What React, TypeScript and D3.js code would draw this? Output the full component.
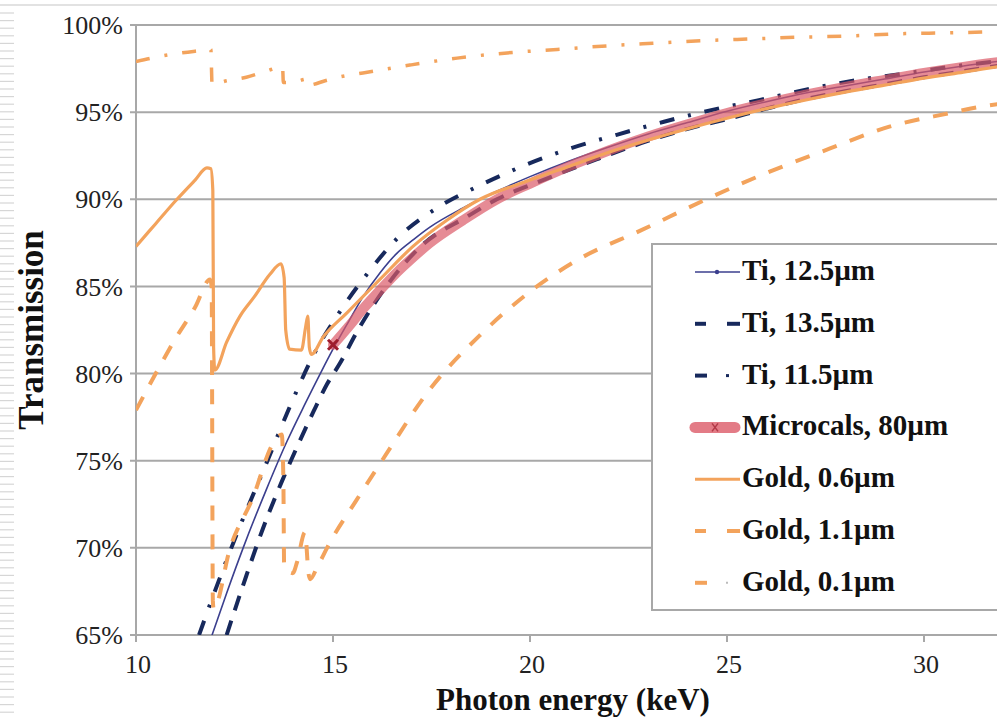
import React from 'react'
import * as d3 from 'd3'

// photon energy (keV), transmission (fraction)
const xTicks = [10, 15, 20, 25, 30]
const yTicks = [0.65, 0.7, 0.75, 0.8, 0.85, 0.9, 0.95, 1.0]

const ti125 = [[11.9,0.648],[12.3,0.674],[12.72,0.70],[13.3,0.733],[13.83,0.761],[14.3,0.783],[14.7,0.801],[15,0.814],[15.4,0.83],[15.76,0.844],[16.2,0.858],[16.62,0.869],[17.05,0.877],[17.46,0.884],[18.3,0.895],[19.1,0.904],[20,0.913],[21,0.922],[22,0.930],[23,0.9375],[24,0.944],[25,0.9505],[26,0.956],[27,0.961],[28,0.965],[29,0.969],[30,0.973],[31,0.9765],[32,0.9795]]
const ti135 = [[12.3,0.650],[12.8,0.684],[13.22,0.711],[13.7,0.738],[14.09,0.758],[14.5,0.778],[14.85,0.794],[15.18,0.806],[15.61,0.824],[16.45,0.853],[17.28,0.874],[18.4,0.890],[19.16,0.900],[20.33,0.911],[21.7,0.923],[23.2,0.935],[24.1,0.941],[25,0.946],[26,0.952],[27,0.9575],[28,0.962],[29,0.966],[30,0.970],[31,0.9735],[32,0.977]]
const ti115 = [[11.6,0.650],[12.0,0.675],[12.56,0.708],[13.3,0.748],[13.98,0.785],[14.49,0.810],[15.13,0.834],[15.86,0.857],[16.65,0.878],[17.64,0.895],[18.73,0.908],[19.92,0.920],[21,0.929],[22.2,0.937],[23.4,0.9445],[24.57,0.951],[25.84,0.957],[27.03,0.963],[28.2,0.968],[29.47,0.972],[30.66,0.976],[32,0.9795]]
const microcals = [[15,0.8165],[15.4,0.827],[15.76,0.837],[16.2,0.848],[16.62,0.858],[17,0.866],[17.46,0.875],[18.3,0.888],[19.16,0.90],[20,0.909],[21,0.919],[22,0.928],[23,0.936],[24,0.943],[25,0.9495],[26,0.955],[27,0.960],[28,0.9645],[29,0.9685],[30,0.9725],[31,0.976],[32,0.979]]
const gold06 = [[10,0.873],[10.5,0.886],[11,0.899],[11.5,0.911],[11.8,0.918],[11.9,0.9175],[11.95,0.905],[11.97,0.815],[12.0,0.802],[12.3,0.818],[12.64,0.833],[13.0,0.844],[13.4,0.857],[13.68,0.863],[13.76,0.855],[13.8,0.825],[13.9,0.814],[14.2,0.8135],[14.3,0.826],[14.36,0.833],[14.4,0.815],[14.45,0.811],[14.75,0.821],[15.36,0.835],[16.19,0.854],[17.03,0.873],[17.89,0.888],[18.73,0.900],[20,0.911],[21,0.919],[22,0.927],[23,0.934],[24,0.9405],[25,0.9465],[26,0.952],[27,0.957],[28,0.9615],[29,0.9655],[30,0.9695],[31,0.973],[32,0.9765]]
const gold11 = [[10,0.779],[10.5,0.80],[11,0.82],[11.5,0.838],[11.88,0.854],[11.92,0.850],[11.95,0.67],[11.97,0.665],[12.39,0.70],[12.97,0.729],[13.48,0.76],[13.7,0.765],[13.74,0.74],[13.76,0.689],[13.98,0.6855],[14.09,0.692],[14.29,0.709],[14.38,0.685],[14.42,0.682],[14.6,0.689],[14.92,0.703],[15.6,0.7275],[16.27,0.751],[17.46,0.791],[18.73,0.822],[20,0.847],[21.27,0.866],[22.8,0.882],[24.57,0.901],[26.1,0.916],[27.6,0.929],[29.1,0.9415],[30.66,0.9495],[31.4,0.953],[32,0.955]]
const gold01 = [[10,0.979],[10.5,0.9815],[11,0.9835],[11.5,0.985],[11.9,0.986],[11.93,0.966],[12.3,0.968],[12.8,0.970],[13.3,0.9735],[13.72,0.976],[13.74,0.967],[14.0,0.9672],[14.34,0.969],[14.37,0.9655],[14.8,0.968],[15.13,0.970],[15.76,0.9725],[16.95,0.977],[18.15,0.981],[19.42,0.984],[20.69,0.986],[21.95,0.988],[23.12,0.9895],[24.39,0.991],[25.58,0.992],[26.85,0.993],[28.1,0.9937],[29.4,0.995],[30.66,0.9955],[32,0.9962]]

const legendLabels = ['Ti, 12.5µm', 'Ti, 13.5µm', 'Ti, 11.5µm', 'Microcals, 80µm', 'Gold, 0.6µm', 'Gold, 1.1µm', 'Gold, 0.1µm']

const NAVY = '#17295c'
const TI_THIN = '#3b3f8e'
const GOLD = '#f3a35c'
const PINK = '#dc5a68'
const GRID = '#a8a8a8'
const SERIF = '"Liberation Serif", "Times New Roman", serif'

export default function App() {
    const width = 997
    const height = 717
    const left = 136, top = 25, bottom = 635

    const x = d3.scaleLinear().domain([10, 32]).range([left, left + 22 * 39.4])
    const y = d3.scaleLinear().domain([0.65, 1]).range([bottom, top])

    const line = d3.line<number[]>()
        .x(d => x(d[0]))
        .y(d => y(d[1]))
        .curve(d3.curveMonotoneX)

    const stripes = d3.range(13, height, 7.6)
    const rowY = (i: number) => 280 + i * 51.8

    return (
        <svg width={width} height={height} style={{ position: 'absolute', left: 0, top: 0, background: '#fff' }}>
            <defs>
                <clipPath id="plot">
                    <rect x={left} y={top - 10} width={width - left} height={bottom - top + 10} />
                </clipPath>
            </defs>

            {/* scanned page edge */}
            {stripes.map((s, i) => <line key={i} x1={0} x2={14} y1={s} y2={s} stroke="#d6d6d6" strokeWidth={1.2} />)}
            <line x1={0} x2={width} y1={5} y2={5} stroke="#e2e2e2" strokeWidth={2} />

            {/* grid and axes */}
            {yTicks.map(t => (
                <line key={t} x1={left - 6} x2={width} y1={y(t)} y2={y(t)} stroke={GRID} strokeWidth={2} />
            ))}
            <line x1={left} x2={left} y1={top} y2={bottom + 7} stroke={GRID} strokeWidth={2} />
            {xTicks.map(t => (
                <line key={t} x1={x(t)} x2={x(t)} y1={bottom} y2={bottom + 7} stroke={GRID} strokeWidth={2} />
            ))}

            {yTicks.map(t => (
                <text key={t} x={123} y={y(t)} dy="0.35em" textAnchor="end" fontFamily={SERIF} fontSize={26} fill="#222">
                    {d3.format('.0%')(t)}
                </text>
            ))}
            {xTicks.map(t => (
                <text key={t} x={x(t) + 2} y={673} textAnchor="middle" fontFamily={SERIF} fontSize={26} fill="#222">{t}</text>
            ))}

            <text x={573} y={710} textAnchor="middle" fontFamily={SERIF} fontSize={31} fontWeight="bold" fill="#111">Photon energy (keV)</text>
            <text transform="translate(43,330) rotate(-90)" textAnchor="middle" fontFamily={SERIF} fontSize={35} fontWeight="bold" fill="#111">Transmission</text>

            {/* curves */}
            <g clipPath="url(#plot)" fill="none">
                <path d={line(ti125) || ''} stroke={TI_THIN} strokeWidth={1.6} />
                <path d={line(ti135) || ''} stroke={NAVY} strokeWidth={4} strokeDasharray="15,11" />
                <path d={line(ti115) || ''} stroke={NAVY} strokeWidth={4} strokeDasharray="15,14,3,14" />
                <path d={line(microcals) || ''} stroke={PINK} strokeWidth={10} strokeOpacity={0.7} strokeLinecap="round" />
                <path d={line(gold06) || ''} stroke={GOLD} strokeWidth={3.2} />
                <path d={line(gold11) || ''} stroke={GOLD} strokeWidth={4} strokeDasharray="15,14" />
                <path d={line(gold01) || ''} stroke={GOLD} strokeWidth={3.5} strokeDasharray="14,15,3,15" />
                <path d={`M${x(15) - 5},${y(microcals[0][1]) - 5}l10,10m0,-10l-10,10`} stroke="#9e1c2c" strokeWidth={3} />
            </g>

            {/* legend */}
            <rect x={652} y={244} width={360} height={366} fill="#fff" stroke={GRID} strokeWidth={2} />
            <g fill="none">
                <line x1={695} x2={740} y1={rowY(0) - 8} y2={rowY(0) - 8} stroke={TI_THIN} strokeWidth={1.6} />
                <circle cx={717} cy={rowY(0) - 8} r={2.2} fill={TI_THIN} />
                <line x1={695} x2={706} y1={rowY(1) - 8} y2={rowY(1) - 8} stroke={NAVY} strokeWidth={4} />
                <line x1={727} x2={740} y1={rowY(1) - 8} y2={rowY(1) - 8} stroke={NAVY} strokeWidth={4} />
                <line x1={695} x2={707} y1={rowY(2) - 8} y2={rowY(2) - 8} stroke={NAVY} strokeWidth={4} />
                <line x1={726} x2={729} y1={rowY(2) - 8} y2={rowY(2) - 8} stroke={NAVY} strokeWidth={3} />
                <line x1={695} x2={735} y1={rowY(3) - 8} y2={rowY(3) - 8} stroke={PINK} strokeWidth={11} strokeOpacity={0.8} strokeLinecap="round" />
                <path d={`M${712},${rowY(3) - 12}l6,8m0,-8l-6,8`} stroke="#b23a48" strokeWidth={1.5} />
                <line x1={695} x2={740} y1={rowY(4) - 8} y2={rowY(4) - 8} stroke={GOLD} strokeWidth={3} />
                <line x1={695} x2={706} y1={rowY(5) - 8} y2={rowY(5) - 8} stroke={GOLD} strokeWidth={4} />
                <line x1={727} x2={740} y1={rowY(5) - 8} y2={rowY(5) - 8} stroke={GOLD} strokeWidth={4} />
                <line x1={695} x2={707} y1={rowY(6) - 8} y2={rowY(6) - 8} stroke={GOLD} strokeWidth={4} />
                <line x1={726} x2={728} y1={rowY(6) - 8} y2={rowY(6) - 8} stroke="#bbb" strokeWidth={2} />
            </g>
            {legendLabels.map((l, i) => (
                <text key={l} x={742} y={rowY(i)} fontFamily={SERIF} fontSize={29} fontWeight="bold" fill="#111">{l}</text>
            ))}
        </svg>
    )
}
